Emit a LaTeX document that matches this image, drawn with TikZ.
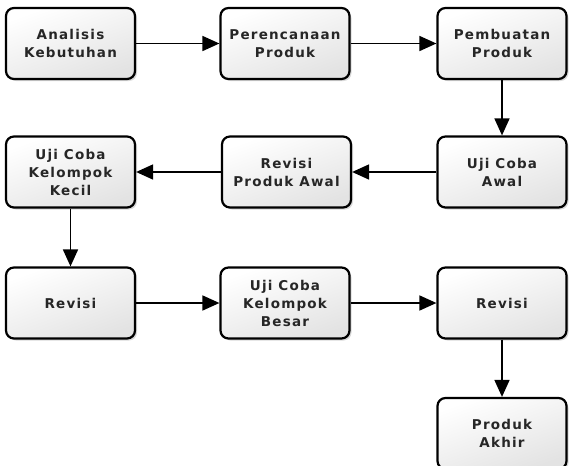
\documentclass[tikz,border=0pt]{standalone}
\usepackage{fontspec}
\setmainfont{DejaVu Sans}[LetterSpace=9]
\usetikzlibrary{arrows.meta,shadows}
\begin{document}
\begin{tikzpicture}[x=1pt,y=-1pt,
  box/.style={draw=black, line width=2.2pt, rounded corners=8pt,
    minimum width=129pt, minimum height=71pt, inner sep=0pt,
    shading=axis, top color=white, bottom color=black!11, shading angle=20,
    drop shadow={shadow xshift=2pt, shadow yshift=-2pt, opacity=0.25, fill=black!60},
    align=center, font=\fontsize{13.5}{18}\selectfont\bfseries, text=black!85},
  conn/.style={line width=1.7pt, -{Triangle[length=17pt,width=15pt]}}]
\useasboundingbox (0,0) rectangle (574,466);
\clip (0,0) rectangle (574,466);
\node[box] (a) at (70.5,43.5) {Analisis\\Kebutuhan};
\node[box] (b) at (285,43.5) {Perencanaan\\Produk};
\node[box] (c) at (502,43.5) {Pembuatan\\Produk};
\node[box] (d) at (502,172) {Uji Coba\\Awal};
\node[box] (e) at (286.5,172) {Revisi\\Produk Awal};
\node[box] (f) at (70.5,172) {Uji Coba\\Kelompok\\Kecil};
\node[box] (g) at (70.5,303) {Revisi};
\node[box] (h) at (285,303) {Uji Coba\\Kelompok\\Besar};
\node[box] (i) at (502,303) {Revisi};
\node[box] (j) at (502,433.5) {Produk\\Akhir};
\draw[conn] (a) -- (b);
\draw[conn] (b) -- (c);
\draw[conn] (c) -- (d);
\draw[conn] (d) -- (e);
\draw[conn] (e) -- (f);
\draw[conn] (f) -- (g);
\draw[conn] (g) -- (h);
\draw[conn] (h) -- (i);
\draw[conn] (i) -- (j);
\end{tikzpicture}
\end{document}
